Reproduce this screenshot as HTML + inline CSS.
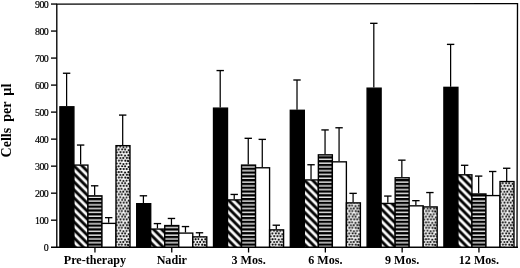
<!DOCTYPE html>
<html><head><meta charset="utf-8"><title>Cells per µl</title>
<style>
html,body{margin:0;padding:0;background:#fff;}
body{width:520px;height:268px;overflow:hidden;}
svg{display:block;}
text{font-family:"Liberation Serif","DejaVu Serif",serif;fill:#000;}
.yl{font-size:9.9px;letter-spacing:-0.5px;stroke:#000;stroke-width:0.2px;text-anchor:end;}
.xl{font-size:12.1px;font-weight:bold;text-anchor:middle;}
.t{font-size:14px;font-weight:bold;word-spacing:2.6px;}
</style></head><body>
<svg width="520" height="268" viewBox="0 0 520 268">
<defs>
<pattern id="hatch" width="5.66" height="5.66" patternUnits="userSpaceOnUse" patternTransform="rotate(45)">
<rect width="5.66" height="5.66" fill="#fff"/><rect x="0" y="1.28" width="5.66" height="2.85" fill="#000"/>
</pattern>
<pattern id="stripe" width="4" height="3.79" y="2.8" patternUnits="userSpaceOnUse">
<rect width="4" height="3.79" fill="#000"/><rect y="0.5" width="4" height="1.3" fill="#fff"/>
</pattern>
<pattern id="dots" x="1.1" width="12.80" height="16.80" patternUnits="userSpaceOnUse">
<rect width="12.80" height="16.80" fill="#fff"/><g fill="#000"><circle cx="0.77" cy="1.31" r="1.02"/><circle cx="13.57" cy="1.31" r="1.02"/><circle cx="4.26" cy="1.05" r="1.08"/><circle cx="4.26" cy="17.85" r="1.08"/><circle cx="7.48" cy="1.11" r="1.08"/><circle cx="7.48" cy="17.91" r="1.08"/><circle cx="10.48" cy="1.08" r="1.06"/><circle cx="10.48" cy="17.88" r="1.06"/><circle cx="2.54" cy="4.17" r="1.11"/><circle cx="5.36" cy="4.02" r="1.02"/><circle cx="8.80" cy="4.50" r="1.09"/><circle cx="-0.61" cy="4.12" r="1.11"/><circle cx="12.19" cy="4.12" r="1.11"/><circle cx="0.52" cy="6.85" r="1.10"/><circle cx="13.32" cy="6.85" r="1.10"/><circle cx="4.16" cy="6.95" r="1.01"/><circle cx="7.04" cy="6.80" r="1.04"/><circle cx="10.62" cy="6.79" r="1.13"/><circle cx="2.67" cy="9.49" r="1.06"/><circle cx="5.59" cy="9.47" r="1.06"/><circle cx="9.08" cy="9.53" r="1.09"/><circle cx="-1.07" cy="9.86" r="1.13"/><circle cx="11.73" cy="9.86" r="1.13"/><circle cx="0.59" cy="12.26" r="1.01"/><circle cx="13.39" cy="12.26" r="1.01"/><circle cx="4.03" cy="12.26" r="1.01"/><circle cx="7.20" cy="12.89" r="1.06"/><circle cx="10.33" cy="12.70" r="1.01"/><circle cx="2.46" cy="15.17" r="1.09"/><circle cx="5.92" cy="15.09" r="1.08"/><circle cx="8.87" cy="15.15" r="1.04"/><circle cx="-0.45" cy="-1.05" r="1.02"/><circle cx="-0.45" cy="15.75" r="1.02"/><circle cx="12.35" cy="-1.05" r="1.02"/><circle cx="12.35" cy="15.75" r="1.02"/></g>
</pattern>
</defs>
<rect width="520" height="268" fill="#fff"/>
<g stroke="#000" stroke-width="1.35" fill="none">
<path d="M56.8 247.2 V4.05 L517.5 3.6 L517.0 247.2"/>
<path d="M51.0 247.2 H517.95"/>
<path d="M51.0 220.18 H56.8"/>
<path d="M51.0 193.17 H56.8"/>
<path d="M51.0 166.15 H56.8"/>
<path d="M51.0 139.13 H56.8"/>
<path d="M51.0 112.11 H56.8"/>
<path d="M51.0 85.10 H56.8"/>
<path d="M51.0 58.08 H56.8"/>
<path d="M51.0 31.06 H56.8"/>
<path d="M51.0 4.05 H56.8"/>
</g>
<text class="yl" x="48.3" y="250.95">0</text>
<text class="yl" x="48.3" y="223.93">100</text>
<text class="yl" x="48.3" y="196.92">200</text>
<text class="yl" x="48.3" y="169.90">300</text>
<text class="yl" x="48.3" y="142.88">400</text>
<text class="yl" x="48.3" y="115.86">500</text>
<text class="yl" x="48.3" y="88.85">600</text>
<text class="yl" x="48.3" y="61.83">700</text>
<text class="yl" x="48.3" y="34.81">800</text>
<text class="yl" x="48.3" y="7.80">900</text>
<path d="M94.95 247.2 v5.3" stroke="#000" stroke-width="1.3"/>
<text class="xl" x="94.95" y="264.3">Pre-therapy</text>
<rect x="59.90" y="106.78" width="14.02" height="140.42" fill="#000" stroke="#000" stroke-width="1.35"/>
<path d="M66.61 106.18 V73.25" stroke="#000" stroke-width="1.25" fill="none"/><path d="M62.91 73.25 h7.4" stroke="#000" stroke-width="1.35" fill="none"/>
<rect x="73.92" y="165.08" width="14.02" height="82.12" fill="url(#hatch)" stroke="#000" stroke-width="1.35"/>
<path d="M80.63 164.48 V145.05" stroke="#000" stroke-width="1.25" fill="none"/><path d="M76.93 145.05 h7.4" stroke="#000" stroke-width="1.35" fill="none"/>
<rect x="87.94" y="195.85" width="14.02" height="51.35" fill="url(#stripe)" stroke="#000" stroke-width="1.35"/>
<path d="M94.65 195.25 V185.80" stroke="#000" stroke-width="1.25" fill="none"/><path d="M90.95 185.80 h7.4" stroke="#000" stroke-width="1.35" fill="none"/>
<rect x="101.96" y="223.38" width="14.02" height="23.82" fill="#fff" stroke="#000" stroke-width="1.35"/>
<path d="M108.67 222.78 V217.65" stroke="#000" stroke-width="1.25" fill="none"/><path d="M104.97 217.65 h7.4" stroke="#000" stroke-width="1.35" fill="none"/>
<rect x="115.98" y="145.65" width="14.02" height="101.55" fill="url(#dots)" stroke="#000" stroke-width="1.35"/>
<path d="M122.69 145.05 V115.09" stroke="#000" stroke-width="1.25" fill="none"/><path d="M118.99 115.09 h7.4" stroke="#000" stroke-width="1.35" fill="none"/>
<path d="M171.75 247.2 v5.3" stroke="#000" stroke-width="1.3"/>
<text class="xl" x="171.75" y="264.3">Nadir</text>
<rect x="136.70" y="203.68" width="14.02" height="43.52" fill="#000" stroke="#000" stroke-width="1.35"/>
<path d="M143.41 203.08 V195.79" stroke="#000" stroke-width="1.25" fill="none"/><path d="M139.71 195.79 h7.4" stroke="#000" stroke-width="1.35" fill="none"/>
<rect x="150.72" y="229.05" width="14.02" height="18.15" fill="url(#hatch)" stroke="#000" stroke-width="1.35"/>
<path d="M157.43 228.45 V223.59" stroke="#000" stroke-width="1.25" fill="none"/><path d="M153.73 223.59 h7.4" stroke="#000" stroke-width="1.35" fill="none"/>
<rect x="164.74" y="225.54" width="14.02" height="21.66" fill="url(#stripe)" stroke="#000" stroke-width="1.35"/>
<path d="M171.45 224.94 V218.46" stroke="#000" stroke-width="1.25" fill="none"/><path d="M167.75 218.46 h7.4" stroke="#000" stroke-width="1.35" fill="none"/>
<rect x="178.76" y="233.10" width="14.02" height="14.10" fill="#fff" stroke="#000" stroke-width="1.35"/>
<path d="M185.47 232.50 V226.56" stroke="#000" stroke-width="1.25" fill="none"/><path d="M181.77 226.56 h7.4" stroke="#000" stroke-width="1.35" fill="none"/>
<rect x="192.78" y="236.87" width="14.02" height="10.33" fill="url(#dots)" stroke="#000" stroke-width="1.35"/>
<path d="M199.49 236.27 V232.77" stroke="#000" stroke-width="1.25" fill="none"/><path d="M195.79 232.77 h7.4" stroke="#000" stroke-width="1.35" fill="none"/>
<path d="M248.55 247.2 v5.3" stroke="#000" stroke-width="1.3"/>
<text class="xl" x="248.55" y="264.3">3 Mos.</text>
<rect x="213.50" y="108.13" width="14.02" height="139.07" fill="#000" stroke="#000" stroke-width="1.35"/>
<path d="M220.21 107.53 V70.56" stroke="#000" stroke-width="1.25" fill="none"/><path d="M216.51 70.56 h7.4" stroke="#000" stroke-width="1.35" fill="none"/>
<rect x="227.52" y="199.90" width="14.02" height="47.30" fill="url(#hatch)" stroke="#000" stroke-width="1.35"/>
<path d="M234.23 199.30 V194.44" stroke="#000" stroke-width="1.25" fill="none"/><path d="M230.53 194.44 h7.4" stroke="#000" stroke-width="1.35" fill="none"/>
<rect x="241.54" y="165.08" width="14.02" height="82.12" fill="url(#stripe)" stroke="#000" stroke-width="1.35"/>
<path d="M248.25 164.48 V138.30" stroke="#000" stroke-width="1.25" fill="none"/><path d="M244.55 138.30 h7.4" stroke="#000" stroke-width="1.35" fill="none"/>
<rect x="255.56" y="167.78" width="14.02" height="79.42" fill="#fff" stroke="#000" stroke-width="1.35"/>
<path d="M262.27 167.18 V139.38" stroke="#000" stroke-width="1.25" fill="none"/><path d="M258.57 139.38 h7.4" stroke="#000" stroke-width="1.35" fill="none"/>
<rect x="269.58" y="229.86" width="14.02" height="17.34" fill="url(#dots)" stroke="#000" stroke-width="1.35"/>
<path d="M276.29 229.26 V225.21" stroke="#000" stroke-width="1.25" fill="none"/><path d="M272.59 225.21 h7.4" stroke="#000" stroke-width="1.35" fill="none"/>
<path d="M325.35 247.2 v5.3" stroke="#000" stroke-width="1.3"/>
<text class="xl" x="325.35" y="264.3">6 Mos.</text>
<rect x="290.30" y="110.29" width="14.02" height="136.91" fill="#000" stroke="#000" stroke-width="1.35"/>
<path d="M297.01 109.69 V80.00" stroke="#000" stroke-width="1.25" fill="none"/><path d="M293.31 80.00 h7.4" stroke="#000" stroke-width="1.35" fill="none"/>
<rect x="304.32" y="179.93" width="14.02" height="67.27" fill="url(#hatch)" stroke="#000" stroke-width="1.35"/>
<path d="M311.03 179.33 V164.75" stroke="#000" stroke-width="1.25" fill="none"/><path d="M307.33 164.75 h7.4" stroke="#000" stroke-width="1.35" fill="none"/>
<rect x="318.34" y="154.82" width="14.02" height="92.38" fill="url(#stripe)" stroke="#000" stroke-width="1.35"/>
<path d="M325.05 154.22 V129.93" stroke="#000" stroke-width="1.25" fill="none"/><path d="M321.35 129.93 h7.4" stroke="#000" stroke-width="1.35" fill="none"/>
<rect x="332.36" y="161.84" width="14.02" height="85.36" fill="#fff" stroke="#000" stroke-width="1.35"/>
<path d="M339.07 161.24 V127.77" stroke="#000" stroke-width="1.25" fill="none"/><path d="M335.37 127.77 h7.4" stroke="#000" stroke-width="1.35" fill="none"/>
<rect x="346.38" y="202.87" width="14.02" height="44.33" fill="url(#dots)" stroke="#000" stroke-width="1.35"/>
<path d="M353.09 202.27 V193.36" stroke="#000" stroke-width="1.25" fill="none"/><path d="M349.39 193.36 h7.4" stroke="#000" stroke-width="1.35" fill="none"/>
<path d="M402.15 247.2 v5.3" stroke="#000" stroke-width="1.3"/>
<text class="xl" x="402.15" y="264.3">9 Mos.</text>
<rect x="367.10" y="88.16" width="14.02" height="159.04" fill="#000" stroke="#000" stroke-width="1.35"/>
<path d="M373.81 87.56 V23.32" stroke="#000" stroke-width="1.25" fill="none"/><path d="M370.11 23.32 h7.4" stroke="#000" stroke-width="1.35" fill="none"/>
<rect x="381.12" y="203.41" width="14.02" height="43.79" fill="url(#hatch)" stroke="#000" stroke-width="1.35"/>
<path d="M387.83 202.81 V196.06" stroke="#000" stroke-width="1.25" fill="none"/><path d="M384.13 196.06 h7.4" stroke="#000" stroke-width="1.35" fill="none"/>
<rect x="395.14" y="177.77" width="14.02" height="69.43" fill="url(#stripe)" stroke="#000" stroke-width="1.35"/>
<path d="M401.85 177.17 V160.16" stroke="#000" stroke-width="1.25" fill="none"/><path d="M398.15 160.16 h7.4" stroke="#000" stroke-width="1.35" fill="none"/>
<rect x="409.16" y="205.84" width="14.02" height="41.36" fill="#fff" stroke="#000" stroke-width="1.35"/>
<path d="M415.87 205.24 V200.65" stroke="#000" stroke-width="1.25" fill="none"/><path d="M412.17 200.65 h7.4" stroke="#000" stroke-width="1.35" fill="none"/>
<rect x="423.18" y="206.91" width="14.02" height="40.28" fill="url(#dots)" stroke="#000" stroke-width="1.35"/>
<path d="M429.89 206.31 V192.55" stroke="#000" stroke-width="1.25" fill="none"/><path d="M426.19 192.55 h7.4" stroke="#000" stroke-width="1.35" fill="none"/>
<path d="M478.95 247.2 v5.3" stroke="#000" stroke-width="1.3"/>
<text class="xl" x="478.95" y="264.3">12 Mos.</text>
<rect x="443.90" y="87.35" width="14.02" height="159.85" fill="#000" stroke="#000" stroke-width="1.35"/>
<path d="M450.61 86.75 V44.38" stroke="#000" stroke-width="1.25" fill="none"/><path d="M446.91 44.38 h7.4" stroke="#000" stroke-width="1.35" fill="none"/>
<rect x="457.92" y="174.80" width="14.02" height="72.40" fill="url(#hatch)" stroke="#000" stroke-width="1.35"/>
<path d="M464.63 174.20 V165.29" stroke="#000" stroke-width="1.25" fill="none"/><path d="M460.93 165.29 h7.4" stroke="#000" stroke-width="1.35" fill="none"/>
<rect x="471.94" y="193.96" width="14.02" height="53.24" fill="url(#stripe)" stroke="#000" stroke-width="1.35"/>
<path d="M478.65 193.36 V176.09" stroke="#000" stroke-width="1.25" fill="none"/><path d="M474.95 176.09 h7.4" stroke="#000" stroke-width="1.35" fill="none"/>
<rect x="485.96" y="195.58" width="14.02" height="51.62" fill="#fff" stroke="#000" stroke-width="1.35"/>
<path d="M492.67 194.98 V171.50" stroke="#000" stroke-width="1.25" fill="none"/><path d="M488.97 171.50 h7.4" stroke="#000" stroke-width="1.35" fill="none"/>
<rect x="499.98" y="181.54" width="14.02" height="65.66" fill="url(#dots)" stroke="#000" stroke-width="1.35"/>
<path d="M506.69 180.94 V168.26" stroke="#000" stroke-width="1.25" fill="none"/><path d="M502.99 168.26 h7.4" stroke="#000" stroke-width="1.35" fill="none"/>
<text class="t" transform="translate(11.4 157.4) rotate(-90)">Cells per µl</text>
</svg></body></html>
